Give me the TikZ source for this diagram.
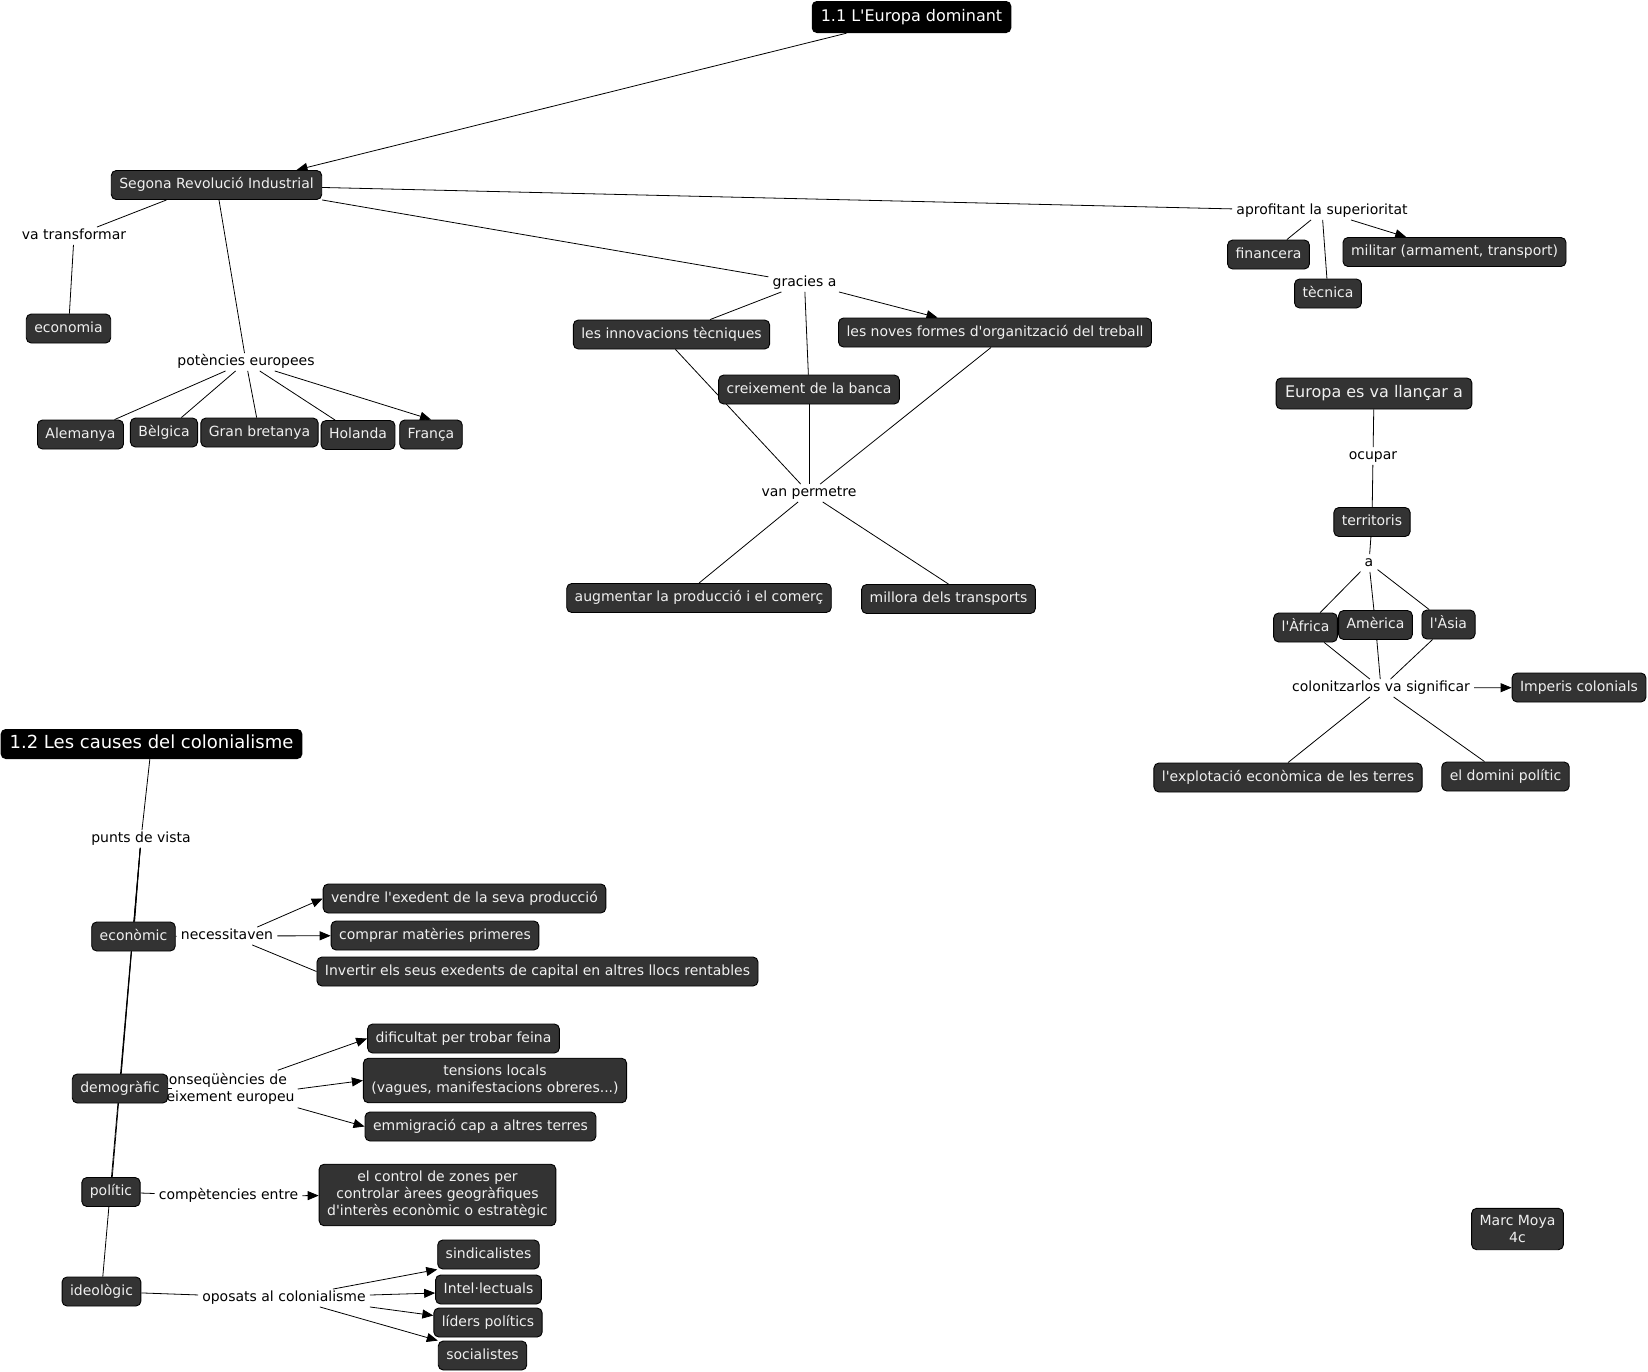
\documentclass[tikz,border=0pt]{standalone}
\usepackage{fontspec}
\setmainfont{DejaVu Sans}
\usetikzlibrary{arrows.meta,backgrounds}
\definecolor{boxfill}{HTML}{333333}
\definecolor{boxtext}{HTML}{F0F0F0}
\newcommand{\aq}{\textquotesingle}
\begin{document}
\begin{tikzpicture}[x=1pt,y=-1pt,
  box/.style={draw=black, line width=0.9pt, fill=boxfill, text=boxtext, rounded corners=5pt, font=\fontsize{14}{17}\selectfont, inner xsep=8pt, inner ysep=3pt, text height=10.5pt, text depth=3pt, minimum height=29pt},
  mbox/.style={draw=black, line width=0.9pt, fill=boxfill, text=boxtext, rounded corners=5pt, font=\fontsize{14}{17}\selectfont, inner xsep=8pt, inner ysep=7pt, align=center},
  ttl/.style={fill=black, text=white, rounded corners=5pt, inner xsep=9pt, inner ysep=2pt},
  lbl/.style={font=\fontsize{14}{17}\selectfont, inner xsep=4pt, inner ysep=2pt, text height=10.5pt, text depth=3pt},
  ln/.style={line width=0.8pt},
  arr/.style={line width=0.8pt, -{Triangle[length=11pt,width=9pt]}}
]
\useasboundingbox (0,0) rectangle (1648,1371);

% titles
\node[ttl, font=\fontsize{16}{19}\selectfont, text height=12pt, text depth=3.5pt, minimum height=32pt] (t11) at (911.5,17) {1.1 L\aq Europa dominant};
\node[ttl, font=\fontsize{18}{21}\selectfont, text height=13pt, text depth=4pt, minimum height=30pt] (t12) at (151.5,744) {1.2 Les causes del colonialisme};

% part 1.1
\node[box] (seg) at (216.5,185) {Segona Revolució Industrial};
\node[lbl] (vatr) at (74,236) {va transformar};
\node[box] (econ1) at (68.5,328.5) {economia};
\node[lbl] (pot) at (246,362) {potències europees};
\node[box] (alem) at (80.5,434.5) {Alemanya};
\node[box] (belg) at (164,432.5) {Bèlgica};
\node[box] (gb) at (259.5,432.5) {Gran bretanya};
\node[box] (hol) at (358,435) {Holanda};
\node[box] (fra) at (431,434.5) {França};

\node[lbl] (apro) at (1322,211) {aprofitant la superioritat};
\node[box] (fin) at (1268.5,254.5) {financera};
\node[box] (tec) at (1328,293.5) {tècnica};
\node[box] (mil) at (1454.5,252) {militar (armament, transport)};

\node[lbl] (gra) at (804.5,283) {gracies a};
\node[box] (innov) at (671.5,334.5) {les innovacions tècniques};
\node[box] (banca) at (809,389.5) {creixement de la banca};
\node[box] (noves) at (995,332.5) {les noves formes d\aq organització del treball};
\node[lbl] (van) at (809,493) {van permetre};
\node[box] (aug) at (699,598) {augmentar la producció i el comerç};
\node[box] (mill) at (948.5,599) {millora dels transports};

\node[box, font=\fontsize{16}{19}\selectfont, text height=12pt, text depth=3.5pt, minimum height=31pt, inner xsep=9pt] (europa) at (1374,393.5) {Europa es va llançar a};
\node[lbl] (ocu) at (1373,456) {ocupar};
\node[box] (terr) at (1372,522) {territoris};
\node[lbl] (la) at (1369,563) {a};
\node[box] (afr) at (1305.5,627.5) {l\aq Àfrica};
\node[box] (ame) at (1375.5,625) {Amèrica};
\node[box] (asia) at (1448.5,624.5) {l\aq Àsia};
\node[lbl] (col) at (1381,688) {colonitzarlos va significar};
\node[box] (imp) at (1579,687.5) {Imperis colonials};
\node[box] (expl) at (1288,777.5) {l\aq explotació econòmica de les terres};
\node[box] (dom) at (1505.5,776.5) {el domini polític};

\node[mbox] (marc) at (1517.5,1229) {Marc Moya\\4c};

% part 1.2
\node[lbl] (punts) at (141,839) {punts de vista};
\node[box] (econ) at (133.5,936.5) {econòmic};
\node[lbl] (nec) at (227,936) {necessitaven};
\node[box] (vend) at (464.5,898.5) {vendre l\aq exedent de la seva producció};
\node[box] (comp) at (435,935.5) {comprar matèries primeres};
\node[box] (inv) at (537.5,971.5) {Invertir els seus exedents de capital en altres llocs rentables};

\node[font=\fontsize{14}{17}\selectfont, align=center, inner sep=3pt] (cons) at (224,1089) {conseqüències de\\creixement europeu};
\node[box] (demo) at (120,1088.5) {demogràfic};
\node[box] (dif) at (463.5,1038.5) {dificultat per trobar feina};
\node[mbox] (tens) at (495,1080.5) {tensions locals\\(vagues, manifestacions obreres...)};
\node[box] (emm) at (480.5,1126.5) {emmigració cap a altres terres};

\node[box] (pol) at (111,1192) {polític};
\node[lbl] (comp2) at (228.5,1196) {compètencies entre};
\node[mbox] (ctrl) at (437.5,1195) {el control de zones per\\controlar àrees geogràfiques\\d\aq interès econòmic o estratègic};

\node[box] (ideo) at (101.5,1291.5) {ideològic};
\node[lbl] (opo) at (284,1298) {oposats al colonialisme};
\node[box] (sind) at (488.5,1254.5) {sindicalistes};
\node[box] (intel) at (488.5,1289.5) {Intel·lectuals};
\node[box] (lid) at (488,1322.5) {líders polítics};
\node[box] (soc) at (482.5,1355.5) {socialistes};

\begin{scope}[on background layer]
\fill[white] (0,0) rectangle (1648,1371);
\draw[arr] (t11) -- ([xshift=80pt]seg.north);
\draw[ln] ([xshift=-50pt]seg.south) -- (vatr);
\draw[ln] (vatr) -- (econ1);
\draw[ln] (seg) -- (pot);
\draw[ln] (pot) -- (alem);
\draw[ln] (pot) -- (belg);
\draw[ln] (pot) -- (gb);
\draw[ln] (pot) -- (hol);
\draw[arr] (pot) -- (fra.north);
\draw[ln] (seg) -- (apro);
\draw[ln] (apro) -- (fin);
\draw[ln] (apro) -- (tec);
\draw[arr] (apro) -- (mil);
\draw[ln] (seg.south east) -- (gra);
\draw[ln] (gra) -- (innov);
\draw[ln] (gra) -- (banca);
\draw[arr] (gra) -- (noves);
\draw[ln] ([xshift=4pt]innov.south) -- (van);
\draw[ln] (banca) -- (van);
\draw[ln] ([xshift=-4pt]noves.south) -- (van);
\draw[ln] (van) -- (aug.north);
\draw[ln] (van) -- (mill.north);
\draw[ln] (europa) -- (ocu);
\draw[ln] (ocu) -- (terr);
\draw[ln] (terr) -- (la);
\draw[ln] (la) -- (afr);
\draw[ln] (la) -- (ame);
\draw[ln] (la) -- (asia);
\draw[ln] (afr) -- (col);
\draw[ln] (ame) -- (col);
\draw[ln] (asia) -- (col);
\draw[arr] (col) -- (imp);
\draw[ln] (col) -- (expl.north);
\draw[ln] (col) -- (dom);

\draw[ln] (t12) -- (punts);
\draw[ln] (punts) -- (econ);
\draw[ln] (punts) -- (demo);
\draw[ln] (punts) -- (pol);
\draw[ln] (punts) -- (ideo);
\draw[ln] (econ) -- (nec);
\draw[arr] ([xshift=-20pt]nec.north east) -- (vend.west);
\draw[arr] (nec) -- (comp);
\draw[ln] ([xshift=-25pt]nec.south east) -- (inv.west);
\draw[ln] (demo.east) -- ([xshift=4pt]demo.east);
\draw[arr] ([xshift=-20pt]cons.north east) -- (dif.west);
\draw[arr] (cons.east) -- (tens.west);
\draw[arr] (cons.south east) -- (emm.west);
\draw[ln] (pol) -- (comp2);
\draw[arr] (comp2) -- (ctrl);
\draw[ln] (ideo) -- (opo);
\draw[arr] ([xshift=-37pt]opo.north east) -- (sind.south west);
\draw[arr] ([yshift=3pt]opo.east) -- ([yshift=-3.5pt]intel.west);
\draw[arr] (opo.south east) -- ([yshift=7pt]lid.west);
\draw[arr] ([xshift=-50pt]opo.south east) -- (soc.north west);
\end{scope}
\end{tikzpicture}
\end{document}
